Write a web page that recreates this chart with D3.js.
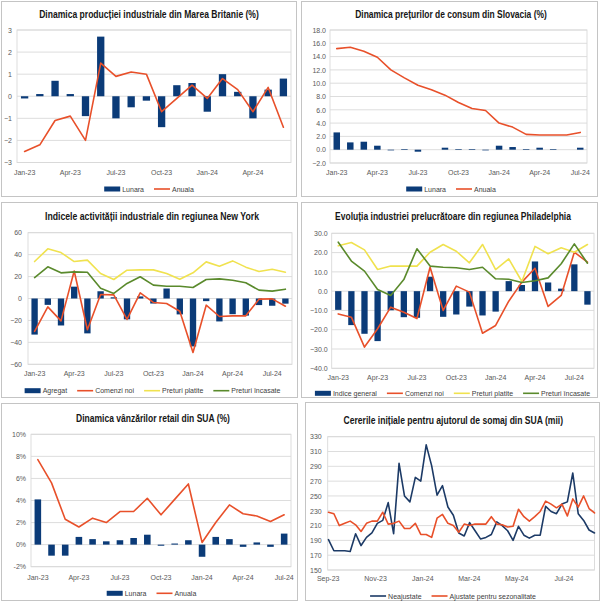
<!DOCTYPE html>
<html><head><meta charset="utf-8">
<script src="https://cdn.jsdelivr.net/npm/d3@7"></script>
<style>
body{margin:0;background:#fff;}
svg text{font-family:"Liberation Sans",Arial,sans-serif;}
</style></head><body>
<svg id="c" width="600" height="602"></svg>
<script>
// ---------- DATA ----------
const ukMonths = ["Jan-23","Feb-23","Mar-23","Apr-23","May-23","Jun-23","Jul-23","Aug-23","Sep-23","Oct-23","Nov-23","Dec-23","Jan-24","Feb-24","Mar-24","Apr-24","May-24","Jun-24"];
const ukLunara = [-0.1,0.1,0.7,0.1,-0.9,2.7,-1.0,-0.5,-0.2,-1.4,0.5,0.6,-0.7,1.0,0.2,-1.0,0.3,0.8];
const ukAnuala = [-2.5,-2.2,-1.1,-0.9,-2.0,1.5,0.9,1.1,1.0,-0.7,-0.1,0.5,-0.1,0.8,0.3,-0.7,0.4,-1.4];
const ukYTicks = [-3,-2,-1,0,1,2,3];

const skMonths = ["Jan-23","Feb-23","Mar-23","Apr-23","May-23","Jun-23","Jul-23","Aug-23","Sep-23","Oct-23","Nov-23","Dec-23","Jan-24","Feb-24","Mar-24","Apr-24","May-24","Jun-24","Jul-24"];
const skLunara = [2.6,1.1,1.2,0.6,-0.1,0.1,-0.3,0.0,0.3,0.1,0.1,-0.1,0.6,0.4,0.1,0.3,0.1,0.0,0.3];
const skAnuala = [15.2,15.4,14.8,13.9,12.0,10.8,9.7,9.0,8.2,7.1,6.2,5.9,4.0,3.4,2.3,2.2,2.2,2.2,2.6];
const skYTicks = [-2,0,2,4,6,8,10,12,14,16,18];

const nyMonths = ["Jan-23","Feb-23","Mar-23","Apr-23","May-23","Jun-23","Jul-23","Aug-23","Sep-23","Oct-23","Nov-23","Dec-23","Jan-24","Feb-24","Mar-24","Apr-24","May-24","Jun-24","Jul-24","Aug-24"];
const nyAgregat = [-32.9,-5.8,-24.6,10.8,-31.8,6.6,1.1,-19.0,1.9,-4.6,9.1,-14.5,-43.7,-2.4,-20.9,-14.3,-15.6,-6.0,-6.6,-4.7];
const nyComenzi = [-30.0,-7.6,-20.4,25.1,-28.5,3.6,3.3,-19.1,5.2,-3.6,-4.6,-11.6,-49.2,-6.1,-16.4,-15.8,-15.8,-0.6,-0.3,-7.0];
const nyPlatite = [33.7,45.3,41.9,33.7,35.0,22.8,17.3,25.8,26.1,26.1,22.8,17.6,23.4,33.4,29.5,34.3,28.6,24.6,26.7,24.0];
const nyIncasate = [19.1,28.9,23.4,24.3,24.0,9.4,4.6,13.7,19.8,12.2,11.2,11.2,10.0,17.3,17.9,16.7,14.3,7.6,6.7,8.5];
const nyYTicks = [-60,-40,-20,0,20,40,60];

const phMonths = ["Jan-23","Feb-23","Mar-23","Apr-23","May-23","Jun-23","Jul-23","Aug-23","Sep-23","Oct-23","Nov-23","Dec-23","Jan-24","Feb-24","Mar-24","Apr-24","May-24","Jun-24","Jul-24","Aug-24"];
const phIndice = [-9.7,-17.6,-22.1,-25.9,-9.9,-13.5,-13.8,7.5,-13.3,-12.1,-8.0,-12.6,-10.6,5.2,3.2,15.4,4.5,1.3,13.9,-7.0];
const phComenzi = [-11.8,-13.5,-29.0,-19.5,-8.3,-10.9,-14.2,12.4,-10.0,2.6,-0.5,-21.8,-17.8,-5.2,4.7,11.9,-7.9,-2.2,20.2,15.0];
const phPlatite = [23.5,25.2,21.4,11.2,13.0,13.0,13.0,20.2,24.2,20.7,14.7,24.2,11.2,16.7,5.0,23.2,19.4,22.5,20.2,24.2];
const phIncasate = [25.4,15.6,10.4,0.9,-2.2,6.0,22.0,13.0,12.4,12.1,11.2,12.4,6.4,6.2,4.5,5.4,6.9,14.2,24.5,14.5];
const phYTicks = [-40,-30,-20,-10,0,10,20,30];

const usMonths = ["Jan-23","Feb-23","Mar-23","Apr-23","May-23","Jun-23","Jul-23","Aug-23","Sep-23","Oct-23","Nov-23","Dec-23","Jan-24","Feb-24","Mar-24","Apr-24","May-24","Jun-24","Jul-24"];
const usLunara = [4.1,-1.0,-1.0,0.7,0.5,0.3,0.4,0.6,0.9,-0.1,0.1,0.4,-1.1,0.7,0.5,-0.2,0.2,-0.2,1.0];
const usAnuala = [7.7,5.6,2.3,1.6,2.4,2.0,3.0,3.0,4.2,2.7,4.1,5.5,0.2,2.0,3.6,2.8,2.6,2.1,2.7];
const usYTicks = [-2,0,2,4,6,8,10];

const claimDates = ["2023-09-02","2023-09-09","2023-09-16","2023-09-23","2023-09-30","2023-10-07","2023-10-14","2023-10-21","2023-10-28","2023-11-04","2023-11-11","2023-11-18","2023-11-25","2023-12-02","2023-12-09","2023-12-16","2023-12-23","2023-12-30","2024-01-06","2024-01-13","2024-01-20","2024-01-27","2024-02-03","2024-02-10","2024-02-17","2024-02-24","2024-03-02","2024-03-09","2024-03-16","2024-03-23","2024-03-30","2024-04-06","2024-04-13","2024-04-20","2024-04-27","2024-05-04","2024-05-11","2024-05-18","2024-05-25","2024-06-01","2024-06-08","2024-06-15","2024-06-22","2024-06-29","2024-07-06","2024-07-13","2024-07-20","2024-07-27","2024-08-03","2024-08-10"];
const claimsNSA = [191,176,176,176,175,199,183,194,200,213,217,241,199,294,250,242,275,270,319,291,251,264,235,224,200,196,214,203,192,194,198,215,210,203,190,209,197,193,197,197,236,229,226,239,242,281,226,217,204,200];
const claimsSA = [228,226,210,213,216,211,202,213,216,216,228,212,213,216,206,206,213,198,198,194,220,225,213,210,201,212,210,212,212,212,222,212,211,208,209,232,222,216,222,229,243,239,234,239,223,246,235,250,233,227];
const claimTickDates = ["2023-09-01","2023-11-01","2024-01-01","2024-03-01","2024-05-01","2024-07-01"];
const claimYTicks = [150,170,190,210,230,250,270,290,310,330];

// ---------- STYLE ----------
const NAVY="#0b3b78", RED="#e8502a", YEL="#f0e24f", GRN="#5a8a2c", NAVYL="#1c3a66";
const GRID="#d9d9d9", TXT="#595959", FS=7;
const COND="'Liberation Sans Narrow','DejaVu Sans Condensed','Liberation Sans',sans-serif";
const svg = d3.select("#c");
const parse = d3.utcParse("%Y-%m-%d");

function drawPanel(o){
  const g = svg.append("g");
  const f = o.frame;
  g.append("rect").attr("x",f[0]+0.5).attr("y",f[1]+0.5).attr("width",f[2]-f[0]).attr("height",f[3]-f[1])
    .attr("fill","#fff").attr("stroke","#c4c4c4");
  // title: condensed by horizontal scaling to the measured width
  const tg = g.append("g");
  const tt = tg.append("text").attr("x",0).attr("y",0).attr("text-anchor","middle")
    .attr("font-family",COND).attr("font-weight","bold").attr("font-size",11.5).attr("fill","#161616")
    .text(o.title.text);
  const w0 = tt.node().getComputedTextLength();
  const sx = Math.min(1, o.title.w / w0);
  tg.attr("transform",`translate(${o.title.x},${o.title.y}) scale(${sx},1)`);

  const p = o.plot;
  const y = d3.scaleLinear().domain(o.yDomain).range([p.b,p.t]);
  g.append("g").selectAll("line").data(o.yTicks).join("line")
    .attr("x1",p.l).attr("x2",p.r).attr("y1",d=>y(d)).attr("y2",d=>y(d)).attr("stroke",GRID).attr("stroke-width",0.9);
  g.append("rect").attr("x",p.l).attr("y",p.t).attr("width",p.r-p.l).attr("height",p.b-p.t)
    .attr("fill","none").attr("stroke",GRID).attr("stroke-width",0.9);
  const ya = g.append("g").attr("transform",`translate(${p.l},0)`)
    .call(d3.axisLeft(y).tickValues(o.yTicks).tickFormat(o.yFmt).tickSize(0).tickPadding(o.yPad));
  ya.select(".domain").remove();
  ya.selectAll("text").attr("font-size",FS).attr("fill",TXT);

  let x, xc, xs;
  if(o.time){
    x = d3.scaleUtc().domain(o.xDomain).range([p.l,p.r]);
    xs = o.dates; xc = d=>x(d);
  } else {
    x = d3.scaleBand().domain(o.cats).range([p.l,p.r]);
    xs = o.cats; xc = d=>x(d)+x.bandwidth()/2;
  }
  const xAxis = d3.axisBottom(x).tickValues(o.xTicks).tickSize(0).tickPadding(o.xPad);
  if(o.time) xAxis.tickFormat(d3.utcFormat("%b-%y"));
  const xa = g.append("g").attr("transform",`translate(0,${p.b})`).call(xAxis);
  xa.select(".domain").remove();
  xa.selectAll("text").attr("font-size",FS).attr("fill",TXT);

  if(o.bars){
    const bw = x.bandwidth()*0.48;
    g.append("g").selectAll("rect").data(o.bars.values).join("rect")
      .attr("x",(d,i)=>xc(xs[i])-bw/2).attr("width",bw)
      .attr("y",d=>Math.min(y(d),y(0))).attr("height",d=>Math.abs(y(d)-y(0)))
      .attr("fill",NAVY);
  }
  (o.lines||[]).forEach(L=>{
    g.append("path").datum(L.values)
      .attr("d",d3.line().x((d,i)=>xc(xs[i])).y(d=>y(d)))
      .attr("fill","none").attr("stroke",L.color).attr("stroke-width",1.6)
      .attr("stroke-linejoin","round").attr("stroke-linecap","round");
  });

  // legend
  const items = [];
  if(o.bars) items.push({type:"bar",color:NAVY,label:o.bars.label});
  (o.lines||[]).forEach(L=>items.push({type:"line",color:L.color,label:L.label}));
  const lg = g.append("g");
  let cx = 0;
  const SW=16, GAP=2, IG=10;
  items.forEach((it,k)=>{
    const ig = lg.append("g");
    if(it.type==="bar") ig.append("rect").attr("x",cx).attr("y",-2.5).attr("width",SW).attr("height",5).attr("fill",it.color);
    else ig.append("line").attr("x1",cx).attr("x2",cx+SW).attr("y1",0).attr("y2",0).attr("stroke",it.color).attr("stroke-width",1.6);
    const t = ig.append("text").attr("x",cx+SW+GAP).attr("y",2.5).attr("font-size",FS).attr("fill","#404040").text(it.label);
    cx += SW+GAP+t.node().getComputedTextLength()+(k<items.length-1?IG:0);
  });
  lg.attr("transform",`translate(${o.legend.x - cx/2},${o.legend.y})`);
}

const catTicks = cats => cats.filter((d,i)=>i%3===0);

drawPanel({
  frame:[1,1,296,196],
  title:{text:"Dinamica producției industriale din Marea Britanie (%)",x:149,y:18,w:220},
  plot:{l:17,r:291,t:30,b:162.5}, yDomain:[-3,3], yTicks:ukYTicks, yFmt:d3.format("d"), yPad:5,
  cats:ukMonths, xTicks:catTicks(ukMonths), xPad:7.5,
  bars:{values:ukLunara,label:"Lunara"},
  lines:[{values:ukAnuala,color:RED,label:"Anuala"}],
  legend:{x:149,y:189}
});
drawPanel({
  frame:[301,1,597,196],
  title:{text:"Dinamica prețurilor de consum din Slovacia (%)",x:451,y:18,w:192},
  plot:{l:330,r:587,t:30,b:163}, yDomain:[-2,18], yTicks:skYTicks, yFmt:d3.format(".1f"), yPad:4,
  cats:skMonths, xTicks:catTicks(skMonths), xPad:7,
  bars:{values:skLunara,label:"Lunara"},
  lines:[{values:skAnuala,color:RED,label:"Anuala"}],
  legend:{x:451,y:189}
});
drawPanel({
  frame:[1,202,297,397],
  title:{text:"Indicele activității industriale din regiunea New York",x:152,y:220,w:214},
  plot:{l:28,r:292,t:232.7,b:364.3}, yDomain:[-60,60], yTicks:nyYTicks, yFmt:d3.format("d"), yPad:6,
  cats:nyMonths, xTicks:catTicks(nyMonths), xPad:6.7,
  bars:{values:nyAgregat,label:"Agregat"},
  lines:[{values:nyComenzi,color:RED,label:"Comenzi noi"},
         {values:nyPlatite,color:YEL,label:"Preturi platite"},
         {values:nyIncasate,color:GRN,label:"Preturi încasate"}],
  legend:{x:152.5,y:390.7}
});
drawPanel({
  frame:[301,202,597,397],
  title:{text:"Evoluția industriei prelucrătoare din regiunea Philadelphia",x:453,y:220,w:236},
  plot:{l:331.7,r:594,t:233.3,b:368.3}, yDomain:[-40,30], yTicks:phYTicks, yFmt:d3.format(".1f"), yPad:4,
  cats:phMonths, xTicks:catTicks(phMonths), xPad:6.7,
  bars:{values:phIndice,label:"Indice general"},
  lines:[{values:phComenzi,color:RED,label:"Comenzi noi"},
         {values:phPlatite,color:YEL,label:"Preturi platite"},
         {values:phIncasate,color:GRN,label:"Preturi încasate"}],
  legend:{x:452.5,y:393.3}
});
drawPanel({
  frame:[1,403,297,600],
  title:{text:"Dinamica vânzărilor retail din SUA (%)",x:153,y:422.3,w:154},
  plot:{l:31,r:291,t:434.3,b:566.7}, yDomain:[-2,10], yTicks:usYTicks, yFmt:d=>d+"%", yPad:5,
  cats:usMonths, xTicks:catTicks(usMonths), xPad:8.3,
  bars:{values:usLunara,label:"Lunara"},
  lines:[{values:usAnuala,color:RED,label:"Anuala"}],
  legend:{x:151.5,y:593.3}
});
drawPanel({
  frame:[305,402,599,600],
  title:{text:"Cererile inițiale pentru ajutorul de somaj din SUA (mii)",x:453.3,y:424.3,w:220},
  plot:{l:327.7,r:594.5,t:436.7,b:570}, yDomain:[150,330], yTicks:claimYTicks, yFmt:d3.format("d"), yPad:6,
  time:true, dates:claimDates.map(parse), xDomain:[parse("2023-09-01"),parse("2024-08-10")],
  xTicks:claimTickDates.map(parse), xPad:6.5,
  lines:[{values:claimsNSA,color:NAVYL,label:"Neajustate"},
         {values:claimsSA,color:RED,label:"Ajustate pentru sezonalitate"}],
  legend:{x:453,y:596}
});
</script>
</body></html>
